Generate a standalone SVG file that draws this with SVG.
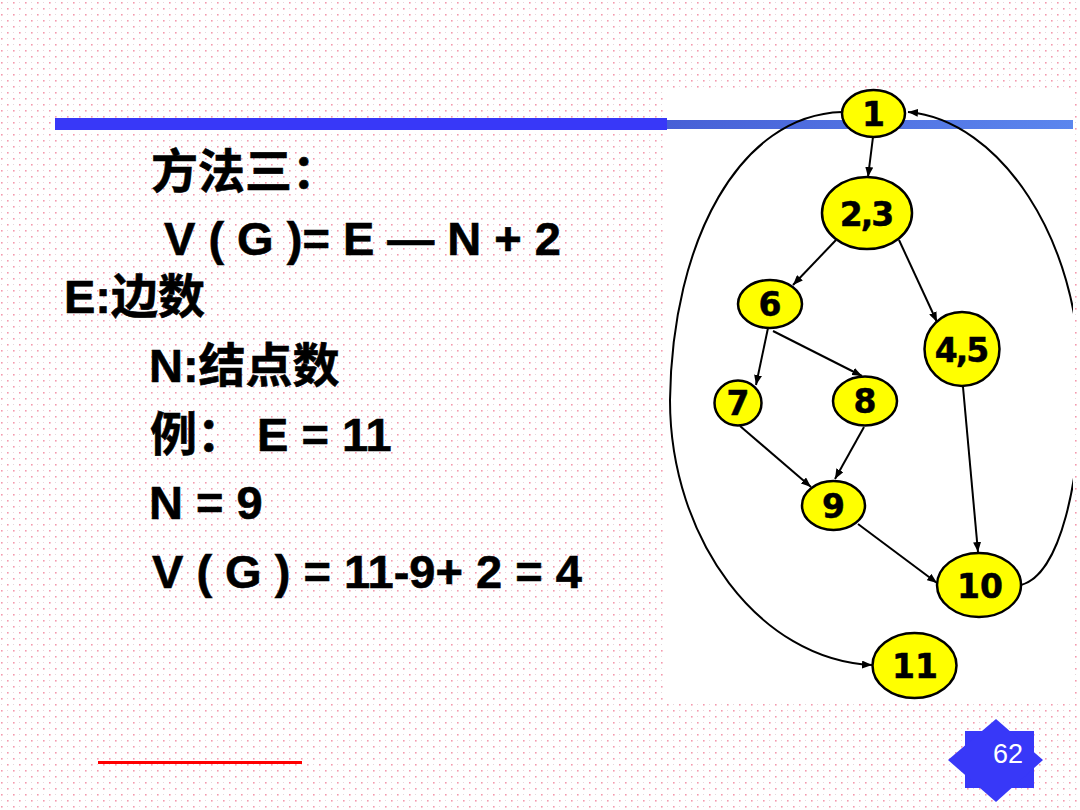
<svg xmlns="http://www.w3.org/2000/svg" width="1080" height="810" viewBox="0 0 1080 810">
  <defs>
    <pattern id="dots" x="0" y="0" width="12" height="12" patternUnits="userSpaceOnUse">
      <rect x="1" y="2" width="1.6" height="1.6" fill="#F39AAE"/>
      <rect x="7" y="8" width="1.6" height="1.6" fill="#F39AAE"/>
      <rect x="7" y="2" width="1" height="1" fill="#E4D9DD"/>
      <rect x="1" y="8" width="1" height="1" fill="#E4D9DD"/>
    </pattern>
    <linearGradient id="barGrad" x1="0" y1="0" x2="1" y2="0">
      <stop offset="0" stop-color="#4760D6"/>
      <stop offset="1" stop-color="#5B86EE"/>
    </linearGradient>
    <marker id="arrow" viewBox="0 0 10 8" refX="10" refY="4" markerWidth="10" markerHeight="8" markerUnits="userSpaceOnUse" orient="auto">
      <path d="M0,0 L10,4 L0,8 Z" fill="#000"/>
    </marker>
    <clipPath id="imgClip">
      <rect x="667" y="92" width="406" height="611"/>
    </clipPath>
  </defs>
  <style>
    .txt { font-family: "Liberation Sans", "Noto Sans CJK SC", sans-serif; font-weight: bold; font-size: 47px; fill: #000; stroke: #000; stroke-width: 0.6; }
    .node ellipse { fill: #FFFF00; stroke: #000; stroke-width: 2.5; }
    .node text { font-family: "DejaVu Sans", Verdana, sans-serif; font-weight: bold; font-size: 33px; fill: #000; text-anchor: middle; stroke: #000; stroke-width: 0.5; }
    .edge { fill: none; stroke: #000; stroke-width: 2; marker-end: url(#arrow); }
  </style>

  <!-- background -->
  <rect x="0" y="0" width="1080" height="810" fill="#FFFFFF"/>
  <rect x="0" y="0" width="1080" height="810" fill="url(#dots)"/>

  <!-- title bar -->
  <rect x="55" y="118" width="612" height="12" fill="#3838F8"/>
  <!-- graph picture background -->
  <rect x="667" y="92" width="406" height="611" fill="#FFFFFF"/>
  <rect x="667" y="120" width="406" height="9" fill="url(#barGrad)"/>

  <!-- left text -->
  <g id="text">
    <text class="txt" x="151" y="188">方法三：</text>
    <text class="txt" x="164" y="255">V ( G )= E — N + 2</text>
    <text class="txt" x="64" y="313">E:边数</text>
    <text class="txt" x="149" y="382">N:结点数</text>
    <text class="txt" x="150" y="451">例： E = 11</text>
    <text class="txt" x="149" y="519">N = 9</text>
    <text class="txt" x="152" y="588">V ( G ) = 11-9+ 2 = 4</text>
  </g>

  <!-- connectors -->
  <g id="connectors" clip-path="url(#imgClip)">
    <path class="edge" d="M873,137 L868,177"/>
    <path class="edge" d="M836,240 L793,285"/>
    <path class="edge" d="M899,240 L937,322"/>
    <path class="edge" d="M768,328 L756,385"/>
    <path class="edge" d="M773,331 L862,376"/>
    <path class="edge" d="M740,426 L811,487"/>
    <path class="edge" d="M864,427 L835,479"/>
    <path class="edge" d="M963,387 L978,552"/>
    <path class="edge" d="M858,524 L937,583"/>
    <path class="edge" d="M842,112 C740,115 672,240 670,400 C670,540 760,660 872,665"/>
    <path class="edge" d="M1021,585 C1060,575 1082,480 1080,380 C1080,240 1000,120 908,112"/>
  </g>

  <!-- nodes -->
  <g id="n1" class="node"><ellipse cx="873.5" cy="113.5" rx="31.5" ry="23.5"/><text x="873.5" y="126">1</text></g>
  <g id="n23" class="node"><ellipse cx="867" cy="213" rx="45" ry="36"/><text x="867" y="226"><tspan>2</tspan><tspan dx="-2">,</tspan><tspan dx="-2">3</tspan></text></g>
  <g id="n6" class="node"><ellipse cx="770" cy="304" rx="32" ry="24"/><text x="770" y="316">6</text></g>
  <g id="n45" class="node"><ellipse cx="962" cy="349" rx="37.5" ry="37"/><text x="962" y="362"><tspan>4</tspan><tspan dx="-2">,</tspan><tspan dx="-2">5</tspan></text></g>
  <g id="n7" class="node"><ellipse cx="738" cy="403" rx="23.5" ry="22.5"/><text x="738" y="415">7</text></g>
  <g id="n8" class="node"><ellipse cx="865" cy="401" rx="32" ry="24.5"/><text x="865" y="413">8</text></g>
  <g id="n9" class="node"><ellipse cx="833.5" cy="505.5" rx="31.5" ry="24.5"/><text x="833.5" y="518">9</text></g>
  <g id="n10" class="node"><ellipse cx="979" cy="585" rx="42" ry="32"/><text x="980" y="598">10</text></g>
  <g id="n11" class="node"><ellipse cx="914.5" cy="665.5" rx="42" ry="32.5"/><text x="915" y="678">11</text></g>

  <!-- footer -->
  <rect x="98" y="761" width="204" height="3" fill="#FF0000"/>
  <g id="pagenum">
    <rect x="965" y="731" width="69" height="57" fill="#3838F8"/>
    <polygon points="996,719 1043,760 996,802 948,760" fill="#3838F8"/>
    <text x="993" y="763" font-family="Liberation Sans, sans-serif" font-size="27" fill="#FFFFFF">62</text>
  </g>
</svg>
